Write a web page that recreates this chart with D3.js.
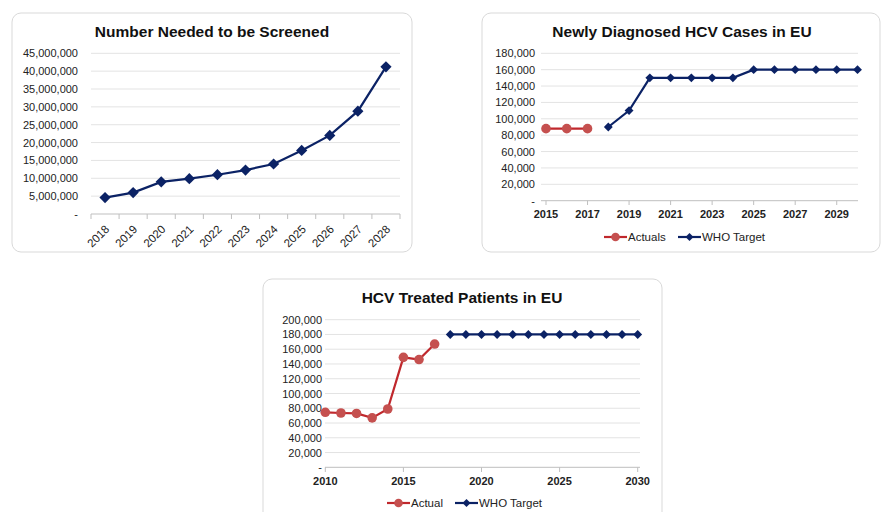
<!DOCTYPE html>
<html>
<head>
<meta charset="utf-8">
<script src="https://cdn.jsdelivr.net/npm/d3@7"></script>
<style>
	body { margin: 0; background: #fff; }
	svg { display: block; font-family: 'Liberation Sans', Arial, sans-serif; }
</style>
</head>
<body>
<svg id="viz" width="882" height="512"></svg>
<script>
var navy = '#0b2265';
var redLine = '#c0282d';
var redDot = '#c5504f';

// chart 1
var screenYears = [ '2018', '2019', '2020', '2021', '2022', '2023', '2024', '2025', '2026', '2027', '2028' ];
var screenValues = [ 4600000, 6000000, 9000000, 9900000, 11000000, 12300000, 14000000, 17800000, 22000000, 28800000, 41200000 ];
var screenTicks = [ 0, 5000000, 10000000, 15000000, 20000000, 25000000, 30000000, 35000000, 40000000, 45000000 ];

// chart 2
var diagActualYears = [ 2015, 2016, 2017 ];
var diagActualValues = [ 88000, 88000, 88000 ];
var diagTargetYears = [ 2018, 2019, 2020, 2021, 2022, 2023, 2024, 2025, 2026, 2027, 2028, 2029, 2030 ];
var diagTargetValues = [ 90000, 110000, 150000, 150000, 150000, 150000, 150000, 160000, 160000, 160000, 160000, 160000, 160000 ];
var diagYTicks = [ 0, 20000, 40000, 60000, 80000, 100000, 120000, 140000, 160000, 180000 ];
var diagXTicks = [ 2015, 2017, 2019, 2021, 2023, 2025, 2027, 2029 ];

// chart 3
var treatActualYears = [ 2010, 2011, 2012, 2013, 2014, 2015, 2016, 2017 ];
var treatActualValues = [ 74500, 73600, 73000, 67000, 79000, 149000, 146000, 167000 ];
var treatTargetYears = [ 2018, 2019, 2020, 2021, 2022, 2023, 2024, 2025, 2026, 2027, 2028, 2029, 2030 ];
var treatTargetValues = [ 180000, 180000, 180000, 180000, 180000, 180000, 180000, 180000, 180000, 180000, 180000, 180000, 180000 ];
var treatYTicks = [ 0, 20000, 40000, 60000, 80000, 100000, 120000, 140000, 160000, 180000, 200000 ];
var treatXTicks = [ 2010, 2015, 2020, 2025, 2030 ];

var svg = d3.select( '#viz' );
var fmt = function ( d ) { return d === 0 ? '-' : d3.format( ',' )( d ); };
var diamond = d3.symbol().type( d3.symbolDiamond2 );

var panel = function ( x, y, w, h, title, tx, ty ) {
	svg.append( 'rect' )
		.attr( 'x', x ).attr( 'y', y ).attr( 'width', w ).attr( 'height', h )
		.attr( 'rx', 9 )
		.attr( 'fill', '#fff' ).attr( 'stroke', '#d9d9d9' );
	svg.append( 'text' )
		.attr( 'x', tx ).attr( 'y', ty )
		.attr( 'text-anchor', 'middle' )
		.attr( 'font-size', 15.5 ).attr( 'font-weight', 'bold' ).attr( 'fill', '#111' )
		.text( title );
};

var yGrid = function ( g, yScale, ticks, x0, x1, labelX ) {
	g.selectAll( 'line.grid' )
		.data( ticks.slice( 1 ) )
		.enter()
		.append( 'line' )
		.attr( 'x1', x0 ).attr( 'x2', x1 )
		.attr( 'y1', function ( d ) { return yScale( d ); } )
		.attr( 'y2', function ( d ) { return yScale( d ); } )
		.attr( 'stroke', '#e3e3e3' );
	g.selectAll( 'text.ylab' )
		.data( ticks )
		.enter()
		.append( 'text' )
		.attr( 'x', labelX )
		.attr( 'y', function ( d ) { return yScale( d ) + 4; } )
		.attr( 'text-anchor', 'end' )
		.attr( 'font-size', 11 ).attr( 'fill', '#222' )
		.text( fmt );
	g.append( 'line' )
		.attr( 'x1', x0 ).attr( 'x2', x1 )
		.attr( 'y1', yScale( 0 ) ).attr( 'y2', yScale( 0 ) )
		.attr( 'stroke', '#bfbfbf' );
};

var series = function ( g, xs, ys, xScale, yScale, color, dotColor, kind ) {
	var pts = xs.map( function ( d, i ) { return [ xScale( d ), yScale( ys[i] ) ]; } );
	g.append( 'path' )
		.attr( 'd', d3.line()( pts ) )
		.attr( 'fill', 'none' ).attr( 'stroke', color ).attr( 'stroke-width', 2.2 );
	if ( kind === 'circle' ) {
		g.selectAll( null ).data( pts ).enter().append( 'circle' )
			.attr( 'cx', function ( d ) { return d[0]; } )
			.attr( 'cy', function ( d ) { return d[1]; } )
			.attr( 'r', 4.8 ).attr( 'fill', dotColor );
	} else {
		g.selectAll( null ).data( pts ).enter().append( 'path' )
			.attr( 'd', diamond.size( kind ) )
			.attr( 'transform', function ( d ) { return 'translate(' + d[0] + ',' + d[1] + ')'; } )
			.attr( 'fill', color );
	}
};

var legend = function ( g, x, y, items ) {
	items.forEach( function ( it ) {
		g.append( 'line' )
			.attr( 'x1', x + it.dx ).attr( 'x2', x + it.dx + 23 )
			.attr( 'y1', y ).attr( 'y2', y )
			.attr( 'stroke', it.color ).attr( 'stroke-width', 2.2 );
		if ( it.kind === 'circle' ) {
			g.append( 'circle' ).attr( 'cx', x + it.dx + 11.5 ).attr( 'cy', y ).attr( 'r', 4.3 ).attr( 'fill', it.dot );
		} else {
			g.append( 'path' ).attr( 'd', diamond.size( 40 ) )
				.attr( 'transform', 'translate(' + ( x + it.dx + 11.5 ) + ',' + y + ')' ).attr( 'fill', it.color );
		}
		g.append( 'text' )
			.attr( 'x', x + it.dx + 24 ).attr( 'y', y + 4 )
			.attr( 'font-size', 11.5 ).attr( 'fill', '#222' )
			.text( it.label );
	} );
};

// ---- chart 1
panel( 12, 13, 400, 239, 'Number Needed to be Screened', 212, 37 );
var g1 = svg.append( 'g' );
var x1 = d3.scaleBand().domain( screenYears ).range( [ 91, 400 ] );
var y1 = d3.scaleLinear().domain( [ 0, 45000000 ] ).range( [ 214, 53.3 ] );
yGrid( g1, y1, screenTicks, 91, 400, 78 );
g1.selectAll( 'line.tick' )
	.data( screenYears.concat( [ null ] ) )
	.enter()
	.append( 'line' )
	.attr( 'x1', function ( d, i ) { return 91 + i * x1.bandwidth(); } )
	.attr( 'x2', function ( d, i ) { return 91 + i * x1.bandwidth(); } )
	.attr( 'y1', 214 ).attr( 'y2', 219 )
	.attr( 'stroke', '#bfbfbf' );
g1.selectAll( 'text.xlab' )
	.data( screenYears )
	.enter()
	.append( 'text' )
	.attr( 'text-anchor', 'end' )
	.attr( 'font-size', 11.5 ).attr( 'fill', '#222' )
	.attr( 'transform', function ( d ) {
		return 'translate(' + ( x1( d ) + x1.bandwidth() / 2 + 5 ) + ',230) rotate(-45)';
	} )
	.text( function ( d ) { return d; } );
series( g1, screenYears, screenValues, function ( d ) { return x1( d ) + x1.bandwidth() / 2; }, y1, navy, navy, 80 );

// ---- chart 2
panel( 482, 13, 398, 239, 'Newly Diagnosed HCV Cases in EU', 682, 37 );
var g2 = svg.append( 'g' );
var x2 = d3.scaleLinear().domain( [ 2015, 2030 ] ).range( [ 546, 857.5 ] );
var y2 = d3.scaleLinear().domain( [ 0, 180000 ] ).range( [ 200.7, 53.3 ] );
yGrid( g2, y2, diagYTicks, 541, 858, 535 );
g2.selectAll( 'line.tick' )
	.data( diagXTicks )
	.enter()
	.append( 'line' )
	.attr( 'x1', x2 ).attr( 'x2', x2 )
	.attr( 'y1', 200.7 ).attr( 'y2', 205 )
	.attr( 'stroke', '#bfbfbf' );
g2.selectAll( 'text.xlab' )
	.data( diagXTicks )
	.enter()
	.append( 'text' )
	.attr( 'x', x2 ).attr( 'y', 218 )
	.attr( 'text-anchor', 'middle' )
	.attr( 'font-size', 11 ).attr( 'font-weight', 'bold' ).attr( 'fill', '#222' )
	.text( function ( d ) { return d; } );
series( g2, diagActualYears, diagActualValues, x2, y2, redLine, redDot, 'circle' );
series( g2, diagTargetYears, diagTargetValues, x2, y2, navy, navy, 50 );
legend( g2, 604, 237, [
	{ dx: 0, label: 'Actuals', color: redLine, dot: redDot, kind: 'circle' },
	{ dx: 74, label: 'WHO Target', color: navy, dot: navy, kind: 'diamond' }
] );

// ---- chart 3
panel( 263, 279, 399, 245, 'HCV Treated Patients in EU', 462, 303 );
var g3 = svg.append( 'g' );
var x3 = d3.scaleLinear().domain( [ 2010, 2030 ] ).range( [ 325.3, 637.7 ] );
var y3 = d3.scaleLinear().domain( [ 0, 200000 ] ).range( [ 467.3, 319.7 ] );
yGrid( g3, y3, treatYTicks, 325, 640, 322 );
g3.selectAll( 'line.tick' )
	.data( treatXTicks )
	.enter()
	.append( 'line' )
	.attr( 'x1', x3 ).attr( 'x2', x3 )
	.attr( 'y1', 467.3 ).attr( 'y2', 472 )
	.attr( 'stroke', '#bfbfbf' );
g3.selectAll( 'text.xlab' )
	.data( treatXTicks )
	.enter()
	.append( 'text' )
	.attr( 'x', x3 ).attr( 'y', 485 )
	.attr( 'text-anchor', 'middle' )
	.attr( 'font-size', 11 ).attr( 'font-weight', 'bold' ).attr( 'fill', '#222' )
	.text( function ( d ) { return d; } );
series( g3, treatActualYears, treatActualValues, x3, y3, redLine, redDot, 'circle' );
series( g3, treatTargetYears, treatTargetValues, x3, y3, navy, navy, 50 );
legend( g3, 387, 503, [
	{ dx: 0, label: 'Actual', color: redLine, dot: redDot, kind: 'circle' },
	{ dx: 68, label: 'WHO Target', color: navy, dot: navy, kind: 'diamond' }
] );
</script>
</body>
</html>
